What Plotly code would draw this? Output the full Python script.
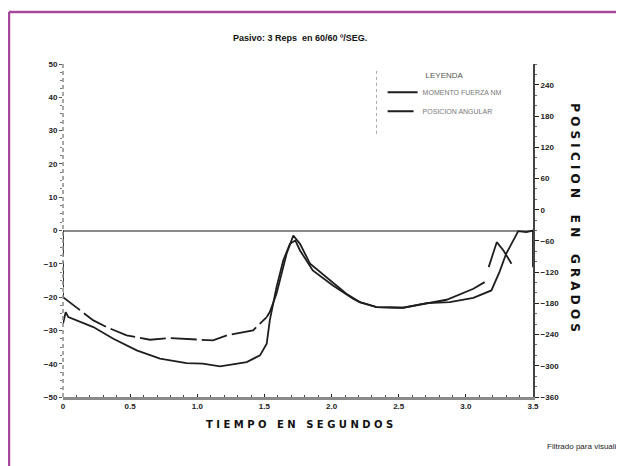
import plotly.graph_objects as go

# --- data ---
t_solid = [0, 0.02, 0.04, 0.226, 0.375, 0.549, 0.722, 0.92, 1.04, 1.17, 1.368, 1.467,
           1.517, 1.54, 1.59, 1.64, 1.69, 1.73, 1.765, 1.86, 2.01, 2.16, 2.21, 2.335,
           2.53, 2.71, 2.88, 3.056, 3.19, 3.25, 3.30, 3.39, 3.45, 3.5, 3.5]
v_solid = [-28, -24.5, -26, -29, -32.5, -36, -38.5, -39.8, -40, -40.8, -39.5, -37.5,
           -34, -27, -17, -9, -4, -3, -6, -12, -16.5, -20.5, -21.5, -23,
           -23.2, -21.8, -21.5, -20.2, -18, -12.5, -7, -0.2, -0.5, 0, -11]

t_dash = [0, 0, 0.226, 0.325, 0.474, 0.648, 0.797, 0.97, 1.117, 1.22, 1.415, 1.517]
v_dash = [0, -20, -27, -29, -31.5, -32.8, -32.3, -32.8, -33, -31.5, -30, -26]

t_dash_end = [1.517, 1.54, 1.59, 1.665, 1.715, 1.765, 1.84, 1.96, 2.11, 2.21, 2.335,
              2.53, 2.71, 2.857, 3.056, 3.14, None, 3.17, 3.23, 3.28, 3.34]
v_dash_end = [-26, -24.5, -19, -7, -1.5, -4, -10, -14, -19, -21.5, -23,
              -23.2, -21.8, -20.8, -17.5, -15.5, None, -11, -3.5, -6, -10]

x_ticks = [0, 0.5, 1.0, 1.5, 2.0, 2.5, 3.0, 3.5]
x_labels = ["0", "0.5", "1.0", "1.5", "2.0", "2.5", "3.0", "3.5"]
left_ticks = [50, 40, 30, 20, 10, 0, -10, -20, -30, -40, -50]
right_ticks = [240, 180, 120, 60, 0, -60, -120, -180, -240, -300, -360]

title = "Pasivo: 3 Reps  en 60/60 º/SEG."
x_title = "T I E M P O   E N   S E G U N D O S"
y2_words = ["POSICION", "EN", "GRADOS"]
note = "Filtrado para visualizar"
series_names = ["MOMENTO FUERZA NM", "POSICION ANGULAR"]

NB = "\u00a0"
y2_title = (NB * 4).join(NB.join(w) for w in y2_words)

INK = "#1e1e1e"
GREY = "#8a8a8a"
PURPLE = "#a8489c"

fig = go.Figure()
fig.add_trace(go.Scatter(x=t_solid, y=v_solid, mode="lines", name=series_names[0],
                         line=dict(color=INK, width=1.8)))
fig.add_trace(go.Scatter(x=t_dash, y=v_dash, mode="lines", name=series_names[1],
                         line=dict(color=INK, width=1.8, dash="26px,5px")))
fig.add_trace(go.Scatter(x=t_dash_end, y=v_dash_end, mode="lines", showlegend=False,
                         line=dict(color=INK, width=1.8)))
# invisible trace to activate right axis
fig.add_trace(go.Scatter(x=[0], y=[0], yaxis="y2", mode="markers", showlegend=False,
                         marker=dict(opacity=0), hoverinfo="skip"))

tickfont = dict(family="Liberation Sans, Arial, sans-serif", size=8, color="#222", weight="bold")

# page body has an 8px margin, so the figure is sized 616x458
fig.update_layout(
    width=616, height=458,
    margin=dict(l=55, r=91, t=56, b=69),
    paper_bgcolor="white", plot_bgcolor="white",
    showlegend=True,
    legend=dict(x=0.68, y=0.99, xanchor="left", yanchor="top",
                bgcolor="rgba(0,0,0,0)", borderwidth=0,
                font=dict(family="Liberation Sans, Arial, sans-serif", size=7, color="#777"),
                title=dict(text="LEYENDA", side="top center",
                           font=dict(family="Liberation Sans, Arial, sans-serif", size=8, color="#555")),
                itemwidth=30, tracegroupgap=6),
    xaxis=dict(range=[0, 3.5], tickvals=x_ticks, ticktext=x_labels, tickfont=tickfont,
               showgrid=False, zeroline=False, showline=True, linecolor=GREY, linewidth=2.5,
               ticks="inside", ticklen=3, tickcolor=INK,
               minor=dict(dtick=0.1, ticks="inside", ticklen=2, tickcolor="#444"),
               fixedrange=True),
    yaxis=dict(range=[-50, 50], tickvals=left_ticks, tickfont=tickfont,
               showgrid=False, zeroline=True, zerolinecolor=GREY, zerolinewidth=2,
               showline=False, ticks="outside", ticklen=3, tickcolor="#555",
               minor=dict(dtick=2.5, ticks="outside", ticklen=2, tickcolor="#777"),
               fixedrange=True),
    yaxis2=dict(range=[-360, 280], tickvals=right_ticks, tickfont=tickfont,
                overlaying="y", side="right", showgrid=False, zeroline=False,
                showline=True, linecolor="#444", linewidth=2,
                ticks="outside", ticklen=4, tickcolor=INK,
                minor=dict(dtick=20, ticks="outside", ticklen=2, tickcolor="#666"),
                fixedrange=True),
)

# left axis drawn as a dashed line
fig.add_shape(type="line", xref="paper", yref="paper", x0=0, x1=0, y0=0, y1=1,
              line=dict(color=GREY, width=1.5, dash="4px,3px"))
# legend left border (dotted)
fig.add_shape(type="line", xref="paper", yref="paper", x0=0.667, x1=0.667, y0=0.79, y1=0.985,
              line=dict(color="#aaa", width=1, dash="dot"))

# purple frame (top and left edges)
fig.add_shape(type="line", xref="paper", yref="paper", x0=-0.1149, x1=1.25, y0=1.156, y1=1.156,
              line=dict(color=PURPLE, width=2.5))
fig.add_shape(type="line", xref="paper", yref="paper", x0=-0.1149, x1=-0.1149, y0=-0.3, y1=1.156,
              line=dict(color=PURPLE, width=2.5))

fig.add_annotation(text=title, xref="paper", yref="paper", x=0.504, y=1.078,
                   xanchor="center", yanchor="middle",
                   showarrow=False, font=dict(family="Liberation Sans, Arial, sans-serif",
                                              size=9, color="#111", weight="bold"))
fig.add_annotation(text=x_title, xref="paper", yref="paper", x=0.504, y=-0.084,
                   xanchor="center", yanchor="middle",
                   showarrow=False, font=dict(family="DejaVu Sans, sans-serif",
                                              size=10, color="#111", weight="bold"))
fig.add_annotation(text=y2_title, xref="paper", yref="paper", x=1.089, y=0.5375,
                   xanchor="center", yanchor="middle",
                   textangle=90, showarrow=False,
                   font=dict(family="DejaVu Sans, sans-serif", size=12, color="#111", weight="bold"))
fig.add_annotation(text=note, xref="paper", yref="paper", x=1.0255, y=-0.15,
                   xanchor="left", yanchor="middle", showarrow=False,
                   font=dict(family="Liberation Sans, Arial, sans-serif", size=8, color="#222"))

fig.write_html("out.html")
